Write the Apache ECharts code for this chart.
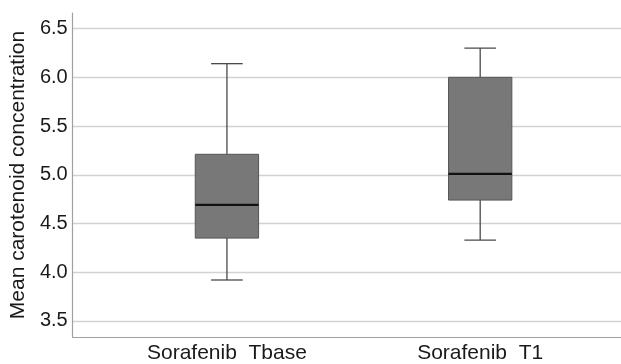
<!DOCTYPE html>
<html>
<head>
<meta charset="utf-8">
<script src="https://cdn.jsdelivr.net/npm/echarts@6/dist/echarts.min.js"></script>
<style>
html,body{margin:0;padding:0;background:#fff;}
#chart{width:621px;height:364px;}
</style>
</head>
<body>
<div id="chart"></div>
<script>
// Data
const categories = ['Sorafenib  Tbase', 'Sorafenib  T1'];
const whiskerLow = [3.92, 4.33];
const q1 = [4.35, 4.74];
const median = [4.69, 5.01];
const q3 = [5.21, 6.00];
const whiskerHigh = [6.14, 6.30];
const yTicks = [3.5, 4.0, 4.5, 5.0, 5.5, 6.0, 6.5];
const yTitle = 'Mean carotenoid concentration';

const seriesData = categories.map((c, i) => [i + 1, whiskerLow[i], q1[i], median[i], q3[i], whiskerHigh[i]]);

const FONT = 'Liberation Sans, Arial, sans-serif';
const chart = echarts.init(document.getElementById('chart'), null, {renderer: 'canvas'});

function renderItem(params, api) {
  const x = api.value(0);
  const lo = api.coord([x, api.value(1)]);
  const b1 = api.coord([x, api.value(2)]);
  const md = api.coord([x, api.value(3)]);
  const b3 = api.coord([x, api.value(4)]);
  const hi = api.coord([x, api.value(5)]);
  const unit = api.size([1, 0])[0];
  const bw = unit * 0.25;
  const cw = bw / 2;
  const cx = lo[0];
  const lineStyle = {stroke: '#4a4a4a', lineWidth: 1.3};
  return {
    type: 'group',
    children: [
      {type: 'line', shape: {x1: cx, y1: hi[1], x2: cx, y2: b3[1]}, style: lineStyle},
      {type: 'line', shape: {x1: cx, y1: b1[1], x2: cx, y2: lo[1]}, style: lineStyle},
      {type: 'line', shape: {x1: cx - cw / 2, y1: hi[1], x2: cx + cw / 2, y2: hi[1]}, style: lineStyle},
      {type: 'line', shape: {x1: cx - cw / 2, y1: lo[1], x2: cx + cw / 2, y2: lo[1]}, style: lineStyle},
      {type: 'rect', shape: {x: cx - bw / 2, y: b3[1], width: bw, height: b1[1] - b3[1]},
        style: {fill: '#787878', stroke: '#555555', lineWidth: 1}},
      {type: 'line', shape: {x1: cx - bw / 2, y1: md[1], x2: cx + bw / 2, y2: md[1]},
        style: {stroke: '#111111', lineWidth: 2.2}}
    ]
  };
}

chart.setOption({
  backgroundColor: '#ffffff',
  animation: false,
  grid: {left: 70, right: 0, top: 13, bottom: 25.5},
  xAxis: {
    type: 'value',
    min: 0.391,
    max: 2.556,
    axisLine: {show: true, lineStyle: {color: '#a0a0a0', width: 1.2}},
    axisTick: {show: false},
    splitLine: {show: false},
    axisLabel: {
      customValues: categories.map((c, i) => i + 1),
      formatter: v => categories[Math.round(v) - 1] || '',
      fontFamily: FONT, fontSize: 21, color: '#1a1a1a', margin: 6
    }
  },
  yAxis: {
    type: 'value',
    min: 3.335,
    max: 6.66,
    name: yTitle,
    nameLocation: 'middle',
    nameGap: 41,
    nameRotate: 90,
    nameTextStyle: {fontFamily: FONT, fontSize: 21, color: '#1a1a1a'},
    axisLine: {show: true, lineStyle: {color: '#a0a0a0', width: 1.2}},
    axisTick: {show: false, customValues: yTicks},
    splitLine: {show: true, lineStyle: {color: '#d2d2d2', width: 1.3}},
    axisLabel: {
      customValues: yTicks,
      formatter: v => v.toFixed(1),
      fontFamily: FONT, fontSize: 20, color: '#1a1a1a', margin: 5
    }
  },
  series: [{
    type: 'custom',
    renderItem: renderItem,
    encode: {x: 0, y: [1, 2, 3, 4, 5]},
    data: seriesData
  }]
});
</script>
</body>
</html>
